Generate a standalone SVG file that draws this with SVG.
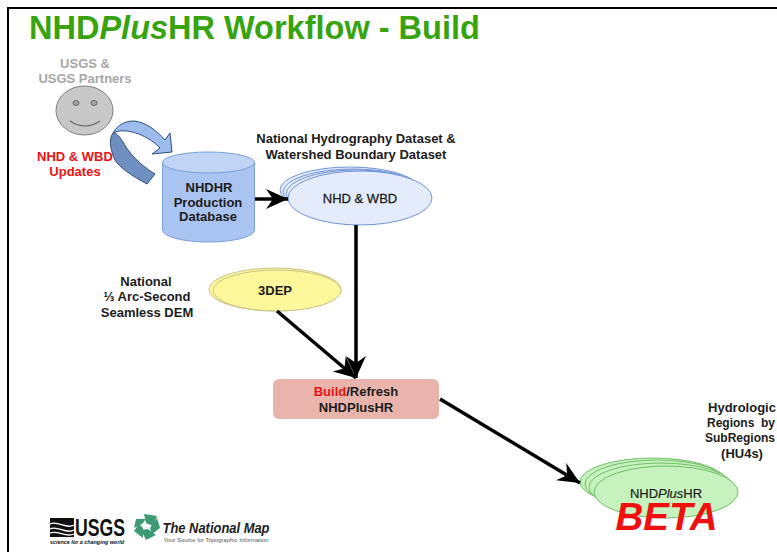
<svg xmlns="http://www.w3.org/2000/svg" width="777" height="552" viewBox="0 0 777 552">
<style>
text{font-family:"Liberation Sans",Arial,sans-serif;font-weight:700;text-anchor:middle;fill:#1c1c1c}
.t{font-size:13px}
.r{font-size:12px}
.conn{stroke:#000;stroke-width:3.5;fill:none;marker-end:url(#a)}
.blue{fill:#e4ecfb;stroke:#6f94d8;stroke-width:1}
.green{fill:#c6f2bd;stroke:#72bf68;stroke-width:1}
</style>
<defs>
<marker id="a" markerUnits="userSpaceOnUse" markerWidth="24" markerHeight="24" refX="22" refY="10" orient="auto" viewBox="0 0 24 20"><path d="M0 0 L22 10 L0 20 L7 10Z" fill="#000"/></marker>
</defs>
<rect width="777" height="552" fill="#fff"/>
<path d="M777 8H8V552" fill="none" stroke="#000" stroke-width="2"/>
<text id="title" x="29" y="39" style="text-anchor:start;font-size:32.500px;fill:#37a30f">NHD<tspan font-style="italic">Plus</tspan>HR Workflow - Build</text>

<g id="usgs">
<text class="t" x="85" y="68" style="fill:#a6a6a6">USGS &amp;</text>
<text class="t" x="85" y="83" style="fill:#a6a6a6">USGS Partners</text>
<ellipse cx="84.500" cy="110.500" rx="28.500" ry="24.500" fill="#c8c8c8" stroke="#7f7f7f"/>
<ellipse cx="76" cy="103" rx="3" ry="2.500" fill="#a6a6a6" stroke="#666"/>
<ellipse cx="94" cy="103" rx="3" ry="2.500" fill="#a6a6a6" stroke="#666"/>
<path d="M70 121Q85 131 100 121" fill="none" stroke="#666" stroke-width="1.200"/>
</g>
<g id="updates">
<text class="t" x="75" y="161" style="fill:#e81212">NHD &amp; WBD</text>
<text class="t" x="75" y="176" style="fill:#e81212">Updates</text>
</g>
<g id="curved-arrow" stroke="#2f4f80" stroke-width="1">
<path d="M113 133C118 133 122 140 126 147C133 158 145 168 155 174L147 184C132 176 119 167 115 160C111 151 108 140 113 133Z" fill="#6f8fc0"/>
<path d="M113 133C118 124 126 121 134 121C146 122 157 131 165 140L170 133L172 152L152 154L160 148C150 137 127 126 113 133Z" fill="#9dbcee"/>
</g>
<g id="nhdhr-db">
<path d="M162.500 162.500V230A46 12 0 0 0 254.500 230V162.500Z" fill="#a9c4f0" stroke="#7a9fd6"/>
<ellipse cx="208.500" cy="162.500" rx="46" ry="10.500" fill="#c0d5f5" stroke="#7a9fd6"/>
<text class="t" x="209" y="192">NHDHR</text>
<text class="t" x="208" y="207">Production</text>
<text class="t" x="208" y="221">Database</text>
</g>
<g id="nhd-wbd">
<text class="t" x="356" y="143">National Hydrography Dataset &amp;</text>
<text class="t" x="356" y="159">Watershed Boundary Dataset</text>
<ellipse cx="350" cy="190" rx="70" ry="23" class="blue"/>
<ellipse cx="353" cy="192" rx="70" ry="23" class="blue"/>
<ellipse cx="356" cy="194" rx="70" ry="24" class="blue"/>
<ellipse cx="360" cy="198" rx="72" ry="27" class="blue"/>
<text class="t" x="360" y="203" style="font-weight:400;stroke:#1c1c1c;stroke-width:.3">NHD &amp; WBD</text>
</g>
<g id="dep3">
<ellipse cx="275" cy="289.500" rx="66" ry="21.500" fill="#fcf79a" stroke="#c9c28a"/>
<ellipse cx="277" cy="290.500" rx="64" ry="20.500" fill="#fcf79a" stroke="#c9c28a"/>
<text class="t" x="275" y="295">3DEP</text>
<text class="t" x="146" y="286">National</text>
<text class="t" x="147" y="301">⅓ Arc-Second</text>
<text class="t" x="147" y="317">Seamless DEM</text>
</g>
<g id="build">
<rect x="273" y="379" width="166" height="40" rx="6" fill="#e8b4ac"/>
<text class="t" x="356" y="396"><tspan style="fill:#e81212">Build</tspan>/Refresh</text>
<text class="t" x="356" y="412">NHDPlusHR</text>
</g>
<g id="nhdplus">
<ellipse cx="653" cy="482" rx="73" ry="24" class="green"/>
<ellipse cx="657" cy="484" rx="72" ry="24" class="green"/>
<ellipse cx="661" cy="487" rx="72" ry="24" class="green"/>
<ellipse cx="666" cy="492" rx="72" ry="26" class="green"/>
<text x="666" y="498" style="font-size:13px;font-weight:400;stroke:#1c1c1c;stroke-width:.2">NHD<tspan font-style="italic">Plus</tspan>HR</text>
<text x="666.500" y="530" style="font-size:38.500px;font-style:italic;fill:#f01010">BETA</text>
</g>
<g id="regions">
<text class="t" x="742" y="412">Hydrologic</text>
<text class="r" x="741" y="427" xml:space="preserve">Regions  by</text>
<text class="r" x="740" y="442">SubRegions</text>
<text class="t" x="742" y="458">(HU4s)</text>
</g>
<g id="logos">
<path d="M50 518H74V537H50Z" fill="#111"/>
<path d="M50 524C58 520 66 530 74 525M50 529C58 525 66 535 74 530M50 533C58 530 66 538 74 534" stroke="#fff" stroke-width="1.300" fill="none"/>
<text x="100" y="536" style="font-size:23px;fill:#111;font-family:'Liberation Sans Narrow','Liberation Sans',sans-serif" textLength="50" lengthAdjust="spacingAndGlyphs">USGS</text>
<text x="87" y="544" style="font-size:6px;font-style:italic;fill:#111" textLength="74" lengthAdjust="spacingAndGlyphs">science for a changing world</text>
<g fill="#3d9a72">
<path d="M144 514L157 516L153 526L146 523Z"/>
<path d="M157 518L160 528L152 534L150 528Z"/>
<path d="M156 535L146 540L141 530L148 529Z"/>
<path d="M143 538L134 531L139 524L143 528Z"/>
<path d="M134 528L136 519L146 519L142 524Z"/>
</g>
<text x="216" y="533" style="font-size:14px;font-style:italic;fill:#222" textLength="107" lengthAdjust="spacingAndGlyphs">The National Map</text>
<text x="216" y="542" style="font-size:5.500px;font-weight:400;fill:#555" textLength="105" lengthAdjust="spacingAndGlyphs">Your Source for Topographic Information</text>
</g>
<g id="connectors">
<line class="conn" x1="255" y1="199" x2="288" y2="199"/>
<line class="conn" x1="356" y1="225" x2="356" y2="378"/>
<line class="conn" x1="277" y1="311" x2="356" y2="378"/>
<line class="conn" x1="440" y1="399" x2="580" y2="483"/>
</g>
</svg>
